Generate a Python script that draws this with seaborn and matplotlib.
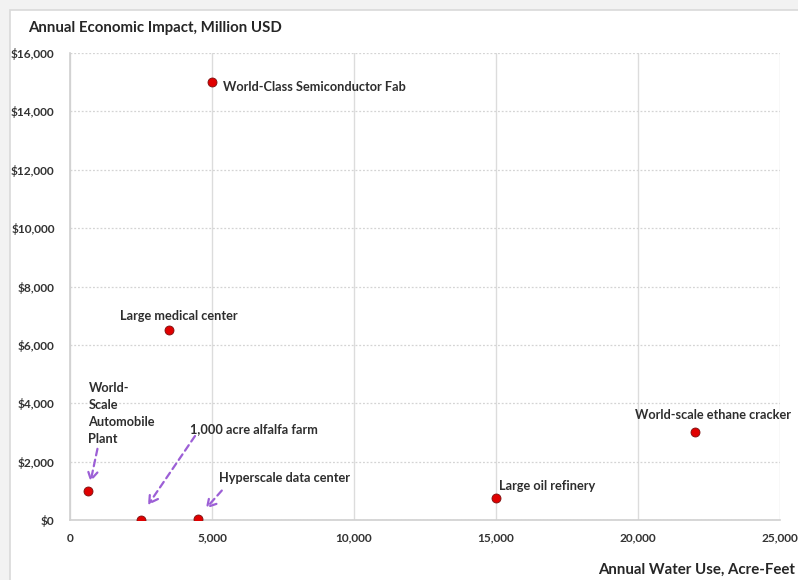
import matplotlib
matplotlib.use("Agg")
import matplotlib.pyplot as plt
import seaborn as sns
import pandas as pd
from matplotlib.patches import Rectangle, FancyArrowPatch
from matplotlib.ticker import FuncFormatter

# Facility water use vs. annual economic impact
facilities = [
    "World-Class Semiconductor Fab",
    "Large medical center",
    "World-\nScale\nAutomobile\nPlant",
    "1,000 acre alfalfa farm",
    "Hyperscale data center",
    "Large oil refinery",
    "World-scale ethane cracker",
]
water_use_af = [5000, 3500, 650, 2500, 4500, 15000, 22000]
impact_musd = [15000, 6500, 1000, 0, 50, 750, 3000]

x_ticks = [0, 5000, 10000, 15000, 20000, 25000]
y_ticks = [0, 2000, 4000, 6000, 8000, 10000, 12000, 14000, 16000]

df = pd.DataFrame({"facility": facilities, "water": water_use_af, "impact": impact_musd})

sns.set_theme(style="white")
plt.rcParams["font.family"] = ["Lato", "DejaVu Sans"]

W, H = 798, 580
fig = plt.figure(figsize=(W / 100, H / 100), dpi=100, facecolor="#f2f2f2")
# white card behind the chart
fig.patches.append(Rectangle((10 / W, -0.01), 1 - 10 / W + 0.01, 1 - 10 / H + 0.01,
                             transform=fig.transFigure, facecolor="white",
                             edgecolor="#d9d9d9", linewidth=1.2, zorder=-10))

ax = fig.add_axes([70 / W, 60 / H, 710 / W, 467 / H])
ax.patch.set_alpha(0)

sns.scatterplot(data=df, x="water", y="impact", ax=ax, s=42, color="#e00000",
                edgecolor="#7a1010", linewidth=0.6, zorder=5, legend=False)

ax.set_xlim(0, 25000)
ax.set_ylim(0, 16000)
ax.set_xticks(x_ticks)
ax.set_yticks(y_ticks)
ax.xaxis.set_major_formatter(FuncFormatter(lambda v, p: f"{int(v):,}"))
ax.yaxis.set_major_formatter(FuncFormatter(lambda v, p: f"${int(v):,}"))
ax.tick_params(axis="both", length=0, labelsize=8.6, labelcolor="#333333")
ax.tick_params(axis="y", pad=11)
ax.tick_params(axis="x", pad=9)
for lbl in ax.get_xticklabels() + ax.get_yticklabels():
    lbl.set_fontweight("bold")

ax.grid(axis="y", color="#d4d4d4", linestyle=(0, (1.5, 1.5)), linewidth=0.9)
ax.grid(axis="x", color="#dcdcdc", linestyle="-", linewidth=1.0)
ax.set_axisbelow(True)
for side in ["top", "right"]:
    ax.spines[side].set_visible(False)
for side in ["left", "bottom"]:
    ax.spines[side].set_color("#d0d0d0")
    ax.spines[side].set_linewidth(1.2)

ax.set_xlabel("")
ax.set_ylabel("")
fig.text(28 / W, 1 - 28 / H, "Annual Economic Impact, Million USD", fontsize=10.8,
         fontweight="bold", color="#262626", ha="left", va="center")
fig.text(795 / W, 1 - 570 / H, "Annual Water Use, Acre-Feet", fontsize=10.8,
         fontweight="bold", color="#262626", ha="right", va="center")

lab_kw = dict(textcoords="offset pixels", fontsize=9.2, fontweight="bold", color="#2e2e2e")
# (dx, dy, ha, va) label offsets in pixels from each point
offsets = [
    (11, -5, "left", "center"),
    (9, 14, "center", "center"),
    (0, 46, "left", "bottom"),
    (49, 91, "left", "center"),
    (21, 41, "left", "center"),
    (3, 12, "left", "center"),
    (18, 17, "center", "center"),
]
for (name, xv, yv), (dx, dy, ha, va) in zip(zip(facilities, water_use_af, impact_musd), offsets):
    ax.annotate(name, xy=(xv, yv), xytext=(dx, dy), ha=ha, va=va,
                linespacing=1.5, annotation_clip=False, zorder=6, **lab_kw)

# dashed leader arrows for the crowded low-impact points
# (point index, tail offset px, head offset px)
arrows = [
    (2, (9, 42), (2, 9)),
    (3, (54, 84), (7, 15)),
    (4, (24, 28), (8, 10)),
]
inv = ax.transData.inverted()
for idx, tail, head in arrows:
    px, py = ax.transData.transform((water_use_af[idx], impact_musd[idx]))
    a = inv.transform((px + tail[0], py + tail[1]))
    b = inv.transform((px + head[0], py + head[1]))
    ax.add_patch(FancyArrowPatch(a, b, arrowstyle="->,head_length=6,head_width=3.5",
                                 color="#9c5fd6", linestyle=(0, (3, 2)), linewidth=1.6,
                                 shrinkA=0, shrinkB=0, zorder=6, clip_on=False,
                                 mutation_scale=1))

fig.savefig("out.png", dpi=100, facecolor=fig.get_facecolor())
